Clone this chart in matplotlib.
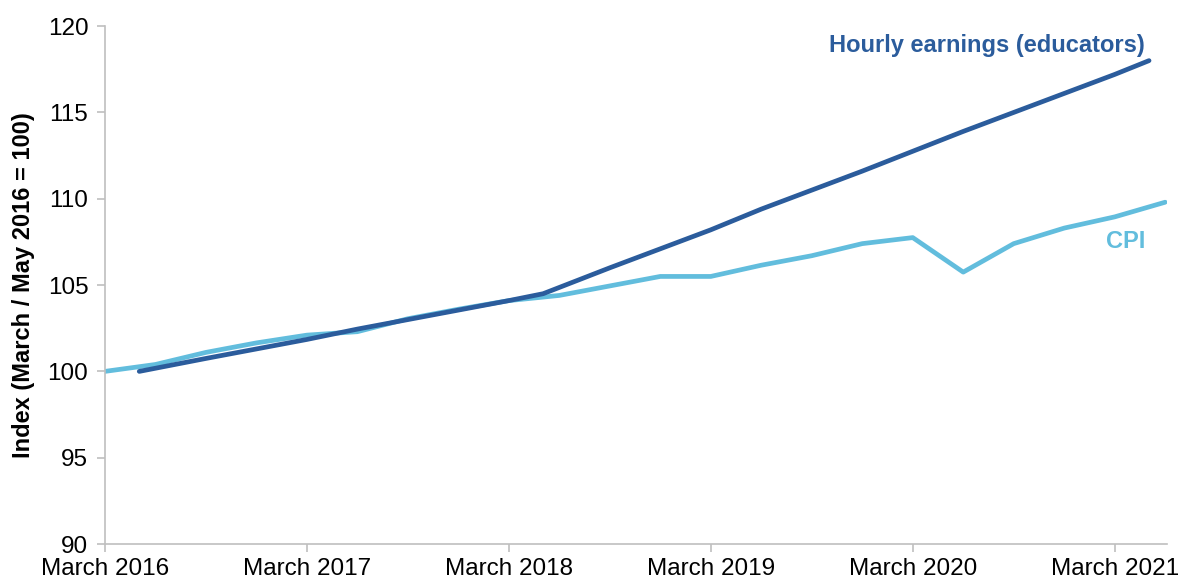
import matplotlib.pyplot as plt

plt.rcParams['font.family'] = ['Liberation Sans', 'DejaVu Sans']

# years since March 2016
cpi_x = [0, 0.25, 0.5, 0.75, 1.0, 1.25, 1.5, 1.75, 2.0, 2.25, 2.5, 2.75,
         3.0, 3.25, 3.5, 3.75, 4.0, 4.25, 4.5, 4.75, 5.0, 5.25]
cpi = [100.0, 100.4, 101.1, 101.65, 102.1, 102.3, 103.05, 103.6, 104.1, 104.4,
       104.95, 105.5, 105.5, 106.15, 106.7, 107.4, 107.75, 105.75, 107.4, 108.3,
       108.95, 109.8]

earn_x = [0.17, 0.5, 0.75, 1.0, 1.25, 1.5, 1.75, 2.0, 2.17, 2.5, 2.75,
          3.0, 3.25, 3.5, 3.75, 4.0, 4.25, 4.5, 4.75, 5.0, 5.17]
earn = [100.0, 100.75, 101.3, 101.85, 102.45, 103.0, 103.55, 104.1, 104.5, 106.0, 107.1,
        108.2, 109.4, 110.5, 111.6, 112.75, 113.9, 115.0, 116.1, 117.2, 118.0]

tick_pos = [0, 1, 2, 3, 4, 5]
tick_labels = ['March 2016', 'March 2017', 'March 2018', 'March 2019', 'March 2020', 'March 2021']

dark = '#2b5c9c'
light = '#62bddd'

fig = plt.figure(figsize=(11.79, 5.8), dpi=100)
ax = fig.add_axes([0.089, 0.062, 0.901, 0.893])

ax.plot(cpi_x, cpi, color=light, lw=3.4, solid_capstyle='round', zorder=2)
ax.plot(earn_x, earn, color=dark, lw=3.4, solid_capstyle='round', zorder=3)

ax.set_xlim(0, 5.26)
ax.set_ylim(90, 120)
ax.set_yticks(range(90, 121, 5))
ax.set_xticks(tick_pos)
ax.set_xticklabels(tick_labels)
ax.tick_params(axis='both', labelsize=17.5, color='#bfbfbf', length=6, width=1.2)
ax.tick_params(axis='x', pad=4)
ax.tick_params(axis='y', pad=6)
for s in ['top', 'right']:
    ax.spines[s].set_visible(False)
for s in ['left', 'bottom']:
    ax.spines[s].set_color('#bfbfbf')
    ax.spines[s].set_linewidth(1.2)

ax.set_ylabel('Index (March / May 2016 = 100)', fontsize=17, fontweight='bold')
ax.yaxis.set_label_coords(-0.066, 0.5)

ax.text(5.15, 118.9, 'Hourly earnings (educators)', color=dark, fontsize=17,
        fontweight='bold', ha='right', va='center')
ax.text(5.15, 107.5, 'CPI', color=light, fontsize=17,
        fontweight='bold', ha='right', va='center')

fig.savefig('out.png', dpi=100)
